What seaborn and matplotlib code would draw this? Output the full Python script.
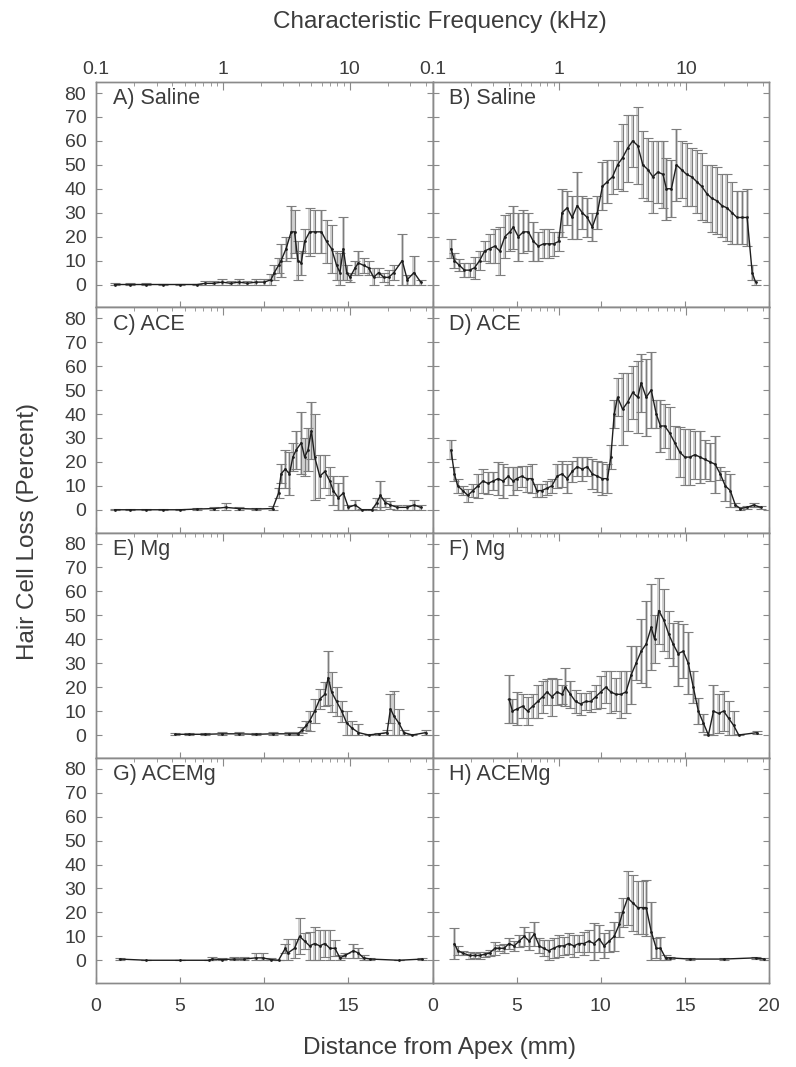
import numpy as np
import pandas as pd
import matplotlib
matplotlib.use('Agg')
import matplotlib.pyplot as plt
from matplotlib.ticker import FixedLocator, FixedFormatter, LogLocator, NullFormatter
import seaborn as sns

# 数据：每个面板的位置 (mm)、平均毛细胞缺失 (%) 和误差 (SD)
a_mm = [1.1, 2.0, 3.0, 4.0, 5.0, 6.0, 6.5, 7.0, 7.5, 8.0, 8.5, 9.0, 9.5, 10.0, 10.4, 10.6, 10.85, 11.0, 11.3, 11.6,
        11.8, 12.0, 12.2, 12.4, 12.7, 13.0, 13.4, 13.7, 14.0, 14.3, 14.5, 14.7, 14.9, 15.1, 15.4, 15.6, 15.9, 16.2,
        16.5, 16.8, 17.1, 17.4, 17.7, 18.2, 18.5, 18.9, 19.3]
a_loss = [0, 0, 0, 0, 0, 0, 0.5, 0.5, 1, 0.5, 1, 0.5, 1, 1, 2, 5, 8, 10, 15, 22,
          22, 10, 9, 18, 22, 22, 22, 18, 15, 8, 5, 15, 5, 3, 7, 9, 8, 7, 3, 5, 3, 3, 5, 10, 2, 5, 1]
a_err = [0.5, 0.5, 0.5, 0.3, 0.3, 0.3, 0.8, 0.8, 1.2, 1, 1.5, 1, 1.5, 1.5, 2.5, 3, 3, 7, 5, 11,
         9, 8, 5, 5, 10, 9, 9, 9, 10, 6, 8, 13, 3, 2, 3, 5, 3, 3, 4, 2, 2, 3, 3, 11, 2, 7, 1]

b_mm = [1.1, 1.3, 1.6, 1.9, 2.2, 2.5, 2.8, 3.1, 3.4, 3.7, 4.0, 4.3, 4.6, 4.8, 5.1, 5.4, 5.7, 6.0, 6.3, 6.6,
        6.9, 7.2, 7.5, 7.7, 8.0, 8.3, 8.6, 8.9, 9.2, 9.5, 9.8, 10.1, 10.4, 10.7, 11.0, 11.3, 11.6, 11.9, 12.2, 12.5,
        12.8, 13.1, 13.4, 13.7, 13.9, 14.2, 14.5, 14.8, 15.1, 15.4, 15.7, 16.0, 16.3, 16.6, 16.9, 17.2, 17.5, 17.8,
        18.1, 18.4, 18.7, 19.0, 19.2]
b_loss = [15, 10, 8, 6, 6, 7, 10, 14, 15, 16, 14, 20, 22, 24, 20, 22, 22, 18, 16, 17,
          17, 17, 18, 30, 32, 28, 33, 30, 28, 24, 30, 41, 43, 45, 50, 53, 57, 60, 58, 50,
          48, 45, 47, 46, 40, 40, 50, 48, 46, 45, 43, 41, 38, 36, 35, 33, 32, 30, 28, 28, 28, 5, 1]
b_err = [4, 3, 2.5, 3, 3, 4.5, 4, 4, 6, 7, 10, 9, 8, 9, 10, 9, 8, 8, 6, 6,
         6, 5, 4, 10, 7, 9, 14, 7, 8, 6, 7, 10, 9, 7, 10, 14, 14, 11, 16, 14,
         13, 15, 13, 14, 13, 12, 15, 12, 13, 12, 13, 14, 12, 14, 14, 13, 14, 13, 11, 11, 12, 3, 1]

c_mm = [1.1, 2.0, 3.0, 4.0, 5.0, 6.0, 7.0, 7.7, 8.5, 9.5, 10.5, 10.85, 11.0, 11.25, 11.5, 11.7, 11.9, 12.2, 12.4,
        12.6, 12.8, 13.0, 13.3, 13.6, 13.9, 14.1, 14.4, 14.7, 15.0, 15.4, 15.8, 16.4, 16.7, 16.9, 17.2, 17.5, 17.9,
        18.5, 18.9, 19.3]
c_loss = [0, 0, 0, 0, 0, 0.3, 0.5, 1, 0.5, 0.3, 0.5, 7, 15, 17, 15, 22, 25, 28, 22, 25,
          33, 22, 14, 16, 12, 8, 5, 7, 1, 2, 0, 0, 3, 6, 3, 2, 1, 1, 2, 1]
c_err = [0.3, 0.5, 0.5, 0.3, 0.5, 0.5, 0.8, 2, 0.8, 0.5, 1, 2, 4, 8, 9, 6, 8, 13, 8, 9,
         12, 18, 9, 7, 6, 6, 6, 7, 1, 2, 0.3, 0.3, 2, 6, 2, 1.5, 1, 1, 2, 1]

d_mm = [1.1, 1.3, 1.5, 1.8, 2.1, 2.4, 2.7, 3.0, 3.3, 3.6, 3.9, 4.2, 4.5, 4.8, 5.0, 5.3, 5.6, 5.9, 6.2, 6.5,
        6.8, 7.1, 7.4, 7.7, 8.0, 8.3, 8.6, 8.9, 9.2, 9.5, 9.8, 10.1, 10.4, 10.6, 10.8, 11.0, 11.3, 11.6, 11.9, 12.2,
        12.4, 12.7, 13.0, 13.3, 13.55, 13.8, 14.1, 14.4, 14.7, 15.0, 15.3, 15.6, 15.9, 16.2, 16.5, 16.8, 17.1, 17.4,
        17.7, 18.0, 18.3, 18.7, 19.1, 19.5]
d_loss = [25, 15, 10, 8, 6, 8, 10, 12, 11, 12, 13, 12, 14, 12, 13, 14, 13, 13, 8, 8,
          9, 10, 14, 15, 13, 16, 18, 17, 18, 15, 14, 13, 13, 22, 40, 47, 42, 45, 49, 47,
          53, 47, 50, 40, 35, 35, 32, 28, 24, 22, 22, 23, 22, 21, 20, 19, 15, 10, 8, 2, 0.5, 1, 2, 1]
d_err = [4, 3, 3, 2, 2.6, 2.7, 5, 5, 4.6, 3.6, 6.8, 7, 3.7, 5.7, 4.7, 4.4, 5.4, 6, 2.7, 2.7,
         3, 2.8, 5, 5.5, 6, 4.5, 4, 4.9, 3.9, 6.2, 6.5, 6.8, 6, 5, 6, 8, 15, 12, 11, 15,
         12, 16, 16, 6, 11, 9, 10.8, 7, 10.4, 11.7, 11.7, 10, 11, 8, 8, 12, 2.7, 6.3, 7, 1, 0.5, 0.5, 1, 0.5]

e_mm = [4.7, 5.5, 6.5, 7.5, 8.5, 9.5, 10.5, 11.5, 12.0, 12.24, 12.5, 12.7, 13.0, 13.3, 13.6, 13.8, 14.0, 14.3,
        14.6, 14.9, 15.2, 15.6, 16.2, 16.8, 17.3, 17.5, 17.7, 18.0, 18.3, 18.8, 19.6]
e_loss = [0.3, 0.3, 0.3, 0.5, 0.5, 0.3, 0.5, 0.5, 0.5, 2, 4, 6, 10, 15, 17, 24, 18, 14, 10, 5,
          3, 1, 0, 0.5, 1, 11, 8, 5, 1, 0, 1]
e_err = [0.5, 0.5, 0.5, 0.8, 0.8, 0.5, 0.8, 0.8, 0.8, 1.2, 2, 4.2, 5, 4.2, 5, 11.3, 8.2, 6, 4.4, 5.2,
         3, 3.6, 0.3, 0.5, 1, 6, 10.5, 5.9, 1, 0.3, 1]

f_mm = [4.55, 4.75, 5.05, 5.35, 5.65, 5.95, 6.25, 6.55, 6.8, 7.1, 7.4, 7.7, 7.9, 8.2, 8.5, 8.8, 9.1, 9.4, 9.7,
        10.0, 10.3, 10.6, 10.9, 11.2, 11.5, 11.8, 12.1, 12.4, 12.7, 13.0, 13.2, 13.45, 13.75, 14.05, 14.3, 14.6,
        14.9, 15.2, 15.5, 15.8, 16.1, 16.4, 16.7, 17.0, 17.3, 17.6, 17.9, 18.2, 19.3]
f_loss = [15, 10, 11, 12, 10, 12, 14, 16, 18, 16, 18, 17, 20, 17, 14, 13, 14, 14, 16, 18,
          20, 18, 17, 17, 18, 25, 30, 35, 38, 45, 40, 52, 48, 42, 38, 34, 35, 30, 20, 10,
          5, 0, 10, 9, 10, 7, 4, 0, 1]
f_err = [10, 5, 7, 5, 6, 5, 7, 6.6, 5.3, 8, 5.3, 4, 8, 5.6, 5, 4.7, 3.7, 4.4, 5, 6.7,
         6.8, 8.8, 7, 9.8, 8.8, 12, 7, 13.4, 18, 18, 10, 13.8, 13, 10, 9, 13.7, 11.3, 13, 6.8, 5.6,
         3.6, 0.5, 11, 8, 8.4, 7.2, 6, 0.5, 0.5]

g_mm = [1.4, 3.0, 5.0, 6.7, 6.9, 7.5, 8.2, 8.8, 9.5, 9.9, 10.4, 10.85, 11.25, 11.4, 11.8, 12.1, 12.4, 12.7, 13.0,
        13.3, 13.6, 13.9, 14.2, 14.5, 14.8, 15.3, 15.6, 15.9, 16.3, 18.0, 19.4]
g_loss = [0.5, 0, 0, 0, 0.5, 0.3, 0.5, 0.5, 1, 1, 0.3, 0, 5, 3, 5, 10, 8, 6, 7, 6,
          7, 5, 5, 1, 2, 4, 3, 1, 0.5, 0, 0.5]
g_err = [0.5, 0.2, 0.2, 0.2, 0.8, 0.5, 0.8, 0.8, 2, 2, 0.5, 0.2, 2, 6, 4, 7.5, 3.2, 6, 7, 6.6,
         5.6, 7.6, 3.4, 1, 1, 3, 2, 1, 0.5, 0.2, 0.5]

h_mm = [1.3, 1.5, 1.8, 2.2, 2.5, 2.8, 3.1, 3.4, 3.7, 3.95, 4.25, 4.55, 4.85, 5.15, 5.45, 5.75, 6.05, 6.35, 6.6,
        6.9, 7.2, 7.5, 7.8, 8.1, 8.4, 8.7, 9.0, 9.3, 9.6, 9.9, 10.2, 10.5, 10.8, 11.1, 11.3, 11.6, 11.9, 12.2,
        12.5, 12.7, 13.0, 13.3, 13.55, 13.85, 14.1, 15.3, 17.3, 19.2, 19.7]
h_loss = [7, 4, 3, 2, 2, 2, 2.5, 3, 5, 5, 5, 7, 6, 8, 10, 8, 11, 6, 5, 4,
          5, 6, 6, 7, 6, 7, 7, 8, 7, 9, 6, 8, 10, 15, 20, 26, 24, 22, 22, 22,
          12, 5, 5, 1, 1, 0.5, 0.5, 1, 0.5]
h_err = [6.3, 2, 1, 1.5, 1, 1.5, 1, 1.2, 2.7, 1.3, 2, 2.1, 2, 2.5, 4, 3.9, 5.1, 3.1, 3.4, 4.4,
         4.1, 4.5, 3.8, 4.2, 4.5, 3.5, 4.9, 4.6, 8.4, 5.7, 5.2, 4.6, 6.1, 5.3, 6, 11.2, 11.8, 11, 11, 11.7,
         12.5, 4.1, 4.8, 1, 0.5, 0.5, 0.5, 0.5, 0.5]

panel_labels = ['A) Saline', 'B) Saline', 'C) ACE', 'D) ACE', 'E) Mg', 'F) Mg', 'G) ACEMg', 'H) ACEMg']
panel_data = [(a_mm, a_loss, a_err), (b_mm, b_loss, b_err), (c_mm, c_loss, c_err), (d_mm, d_loss, d_err),
              (e_mm, e_loss, e_err), (f_mm, f_loss, f_err), (g_mm, g_loss, g_err), (h_mm, h_loss, h_err)]

y_ticks = [0, 10, 20, 30, 40, 50, 60, 70, 80]
x_ticks = [0, 5, 10, 15, 20]
freq_ticks = [0.1, 1, 10]
freq_labels = ['0.1', '1', '10']
freq_max = 45.0  # 20 mm 对应的频率 (kHz)

text_color = '#3c3c3c'
spine_color = '#8a8a8a'

sns.set_theme(style='ticks')
plt.rcParams['font.family'] = ['Liberation Sans', 'DejaVu Sans']
plt.rcParams['text.color'] = text_color
plt.rcParams['xtick.color'] = spine_color
plt.rcParams['ytick.color'] = spine_color
plt.rcParams['xtick.labelcolor'] = text_color
plt.rcParams['ytick.labelcolor'] = text_color

fig = plt.figure(figsize=(7.96, 10.67), dpi=100)
gs = fig.add_gridspec(4, 2, left=96 / 796, right=769 / 796, top=1 - 82 / 1067, bottom=1 - 983 / 1067,
                      wspace=0, hspace=0)

for i, (label, (mm, loss, err)) in enumerate(zip(panel_labels, panel_data)):
    row, col = divmod(i, 2)
    ax = fig.add_subplot(gs[row, col])

    df = pd.DataFrame({'mm': mm, 'loss': loss, 'err': err})
    lower = np.minimum(df['err'], df['loss'])

    # 误差范围的灰色条
    ax.bar(df['mm'], lower + df['err'], bottom=df['loss'] - lower, width=0.18,
           color='#cfcfcf', linewidth=0, zorder=1)
    ax.errorbar(df['mm'], df['loss'], yerr=[lower, df['err']], fmt='none', ecolor='#7d7d7d',
                elinewidth=0.8, capsize=3.5, capthick=0.8, zorder=2)
    sns.lineplot(data=df, x='mm', y='loss', ax=ax, color='#1e1e1e', linewidth=1.0,
                 marker='o', markersize=2, markeredgewidth=0, zorder=3)

    ax.set_xlim(0, 20)
    ax.set_ylim(-9.5, 84.6)
    ax.set_xlabel('')
    ax.set_ylabel('')
    ax.set_yticks(y_ticks)
    ax.set_xticks(x_ticks)
    if col == 0:
        ax.set_yticklabels([str(v) for v in y_ticks])
    else:
        ax.set_yticklabels([])
    if row == 3:
        if col == 0:
            ax.set_xticklabels(['0', '5', '10', '15', ''])
        else:
            ax.set_xticklabels([str(v) for v in x_ticks])
    else:
        ax.set_xticklabels([])
    ax.tick_params(axis='both', which='major', direction='in', length=4, width=0.8, labelsize=14)
    ax.tick_params(axis='y', left=True, right=True, pad=7)
    ax.tick_params(axis='x', bottom=True, top=False, pad=11)
    for sp in ax.spines.values():
        sp.set_visible(True)
        sp.set_color(spine_color)
        sp.set_linewidth(1.0)

    ax.text(0.05, 0.925, label, transform=ax.transAxes, ha='left', va='center', fontsize=15.5,
            color=text_color)

    # 顶部特征频率轴 (对数)
    ax2 = ax.twiny()
    ax2.set_xscale('log')
    ax2.set_xlim(0.1, freq_max)
    ax2.xaxis.set_major_locator(FixedLocator(freq_ticks))
    if row == 0:
        ax2.xaxis.set_major_formatter(FixedFormatter(freq_labels))
    else:
        ax2.xaxis.set_major_formatter(NullFormatter())
    ax2.xaxis.set_minor_locator(LogLocator(base=10, subs=np.arange(2, 10)))
    ax2.xaxis.set_minor_formatter(NullFormatter())
    ax2.tick_params(axis='x', which='major', direction='in', length=6, width=0.8, labelsize=14, pad=3)
    ax2.tick_params(axis='x', which='minor', direction='in', length=3, width=0.6)
    for sp in ax2.spines.values():
        sp.set_color(spine_color)
        sp.set_linewidth(1.0)

fig.text(440 / 796, 1 - 22 / 1067, 'Characteristic Frequency (kHz)', ha='center', va='center', fontsize=17.5)
fig.text(440 / 796, 1 - 1048 / 1067, 'Distance from Apex (mm)', ha='center', va='center', fontsize=17.5)
fig.text(28 / 796, 1 - 532 / 1067, 'Hair Cell Loss (Percent)', ha='center', va='center', rotation=90,
         fontsize=17.5)

fig.savefig('out.png', dpi=100, facecolor='white')
plt.close(fig)
